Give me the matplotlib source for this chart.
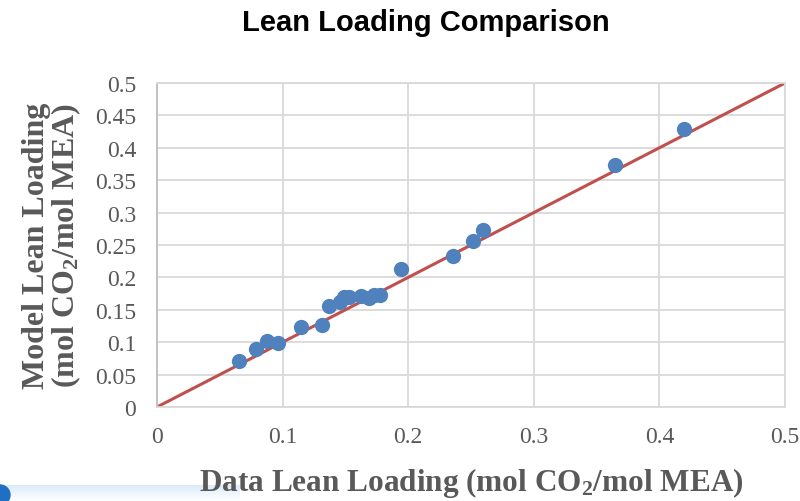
import numpy as np
import matplotlib
matplotlib.use("Agg")
import matplotlib.pyplot as plt
from matplotlib.patches import Circle

plt.rcParams["mathtext.fontset"] = "custom"
plt.rcParams["mathtext.rm"] = "Liberation Serif:bold"
plt.rcParams["mathtext.bf"] = "Liberation Serif:bold"
plt.rcParams["mathtext.it"] = "Liberation Serif:bold"

# data lean loading vs model lean loading (mol CO2/mol MEA)
data_lean = [0.0655, 0.0788, 0.0878, 0.0966, 0.1144, 0.1311, 0.1372, 0.1457,
             0.1491, 0.1531, 0.1622, 0.1690, 0.1728, 0.1775, 0.1940, 0.2360,
             0.2516, 0.2596, 0.3646, 0.4196]
model_lean = [0.0705, 0.0895, 0.1014, 0.0983, 0.1239, 0.1270, 0.1563, 0.1625,
              0.1693, 0.1693, 0.1718, 0.1677, 0.1733, 0.1733, 0.2125, 0.2330,
              0.2560, 0.2730, 0.3735, 0.4290]
parity = [0, 0.5]

xticks = [0, 0.1, 0.2, 0.3, 0.4, 0.5]
yticks = [0, 0.05, 0.1, 0.15, 0.2, 0.25, 0.3, 0.35, 0.4, 0.45, 0.5]

grid_col = "#d9d9d9"
txt_col = "#595959"

fig = plt.figure(figsize=(8, 5.02), dpi=100)
ax = fig.add_axes([157/800, 1 - 408/502, 628/800, 324/502])

ax.plot(parity, parity, color="#C0504D", lw=2.2, zorder=2)
ax.plot(data_lean, model_lean, "o", color="#4F81BD", ms=11, mec="none", zorder=3)

ax.set_xlim(0, 0.5)
ax.set_ylim(0, 0.5)
ax.set_xticks(xticks)
ax.set_yticks(yticks)
ax.set_xticklabels([f"{t:g}" for t in xticks])
ax.set_yticklabels([f"{t:g}" for t in yticks])
ax.tick_params(length=0, labelsize=17, labelcolor=txt_col)
ax.tick_params(axis="y", pad=15)
ax.tick_params(axis="x", pad=14)
for lab in ax.get_xticklabels() + ax.get_yticklabels():
    lab.set_fontfamily("Liberation Serif")

ax.grid(True, color=grid_col, lw=1.3)
ax.set_axisbelow(True)
for s in ["top", "right", "bottom"]:
    ax.spines[s].set_color(grid_col)
    ax.spines[s].set_linewidth(1.3)
ax.spines["left"].set_color("#bfbfbf")
ax.spines["left"].set_linewidth(1.3)

ax.set_xlabel("Data Lean Loading (mol CO$_2$/mol MEA)", fontsize=22.5,
              fontweight="bold", color=txt_col, family="Liberation Serif",
              labelpad=13)
ax.set_ylabel("Model Lean Loading\n(mol CO$_2$/mol MEA)", fontsize=23,
              fontweight="bold", color=txt_col, family="Liberation Serif",
              labelpad=9, linespacing=0.9)

fig.text(0.532, 0.955, "Lean Loading Comparison", ha="center", va="center",
         fontsize=21, fontweight="bold", family="Liberation Sans", color="black")

# light blue strip at the bottom left corner of the screenshot
strip = fig.add_axes([0, 0, 240/800, 16/502])
strip.set_zorder(-1)
grad = np.linspace(1, 0, 50).reshape(-1, 1)
strip.imshow(grad, aspect="auto", cmap=matplotlib.colors.LinearSegmentedColormap.from_list(
    "b", ["#ffffff", "#dcebfb"]), extent=[0, 1, 0, 1])
strip.axis("off")
fig.patches.append(Circle((0, 6), 10, transform=None, color="#1f6fc5"))

fig.savefig("out.png", dpi=100)
